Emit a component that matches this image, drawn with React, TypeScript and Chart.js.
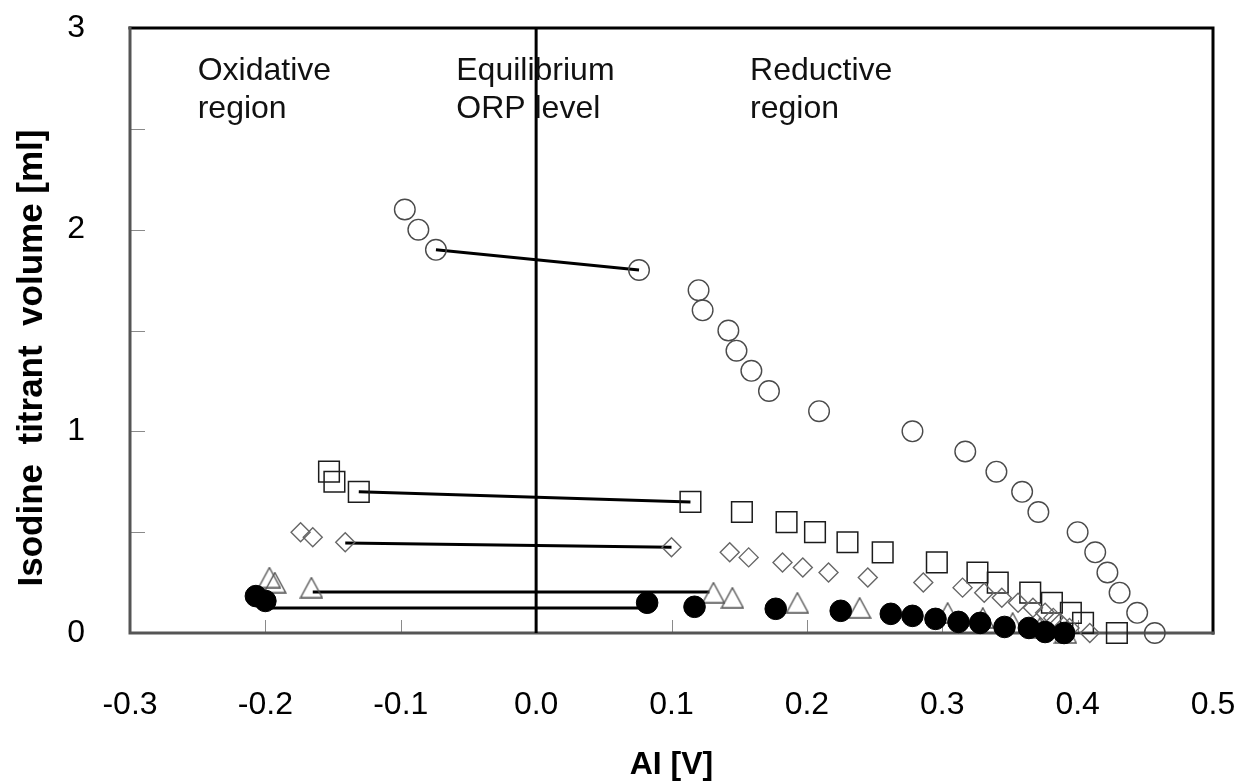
import { useEffect, useRef } from 'react';
import { Chart, registerables } from 'chart.js';

Chart.register(...registerables);

// Open circles
const circleX = [-0.097, -0.087, -0.074, 0.076, 0.12, 0.123, 0.142, 0.148, 0.159, 0.172, 0.209, 0.278, 0.317, 0.34, 0.359, 0.371, 0.4, 0.413, 0.422, 0.431, 0.444, 0.457];
const circleY = [2.1, 2.0, 1.9, 1.8, 1.7, 1.6, 1.5, 1.4, 1.3, 1.2, 1.1, 1.0, 0.9, 0.8, 0.7, 0.6, 0.5, 0.4, 0.3, 0.2, 0.1, 0.0];

// Open squares
const squareX = [-0.153, -0.149, -0.131, 0.114, 0.152, 0.185, 0.206, 0.23, 0.256, 0.296, 0.326, 0.341, 0.365, 0.381, 0.395, 0.404, 0.429];
const squareY = [0.8, 0.75, 0.7, 0.65, 0.6, 0.55, 0.5, 0.45, 0.4, 0.35, 0.3, 0.25, 0.2, 0.15, 0.1, 0.05, 0.0];

// Open diamonds
const diamondX = [-0.174, -0.165, -0.141, 0.1, 0.143, 0.157, 0.182, 0.197, 0.216, 0.245, 0.286, 0.315, 0.331, 0.344, 0.356, 0.367, 0.376, 0.382, 0.387, 0.394, 0.409];
const diamondY = [0.5, 0.475, 0.45, 0.425, 0.4, 0.375, 0.35, 0.325, 0.3, 0.275, 0.25, 0.225, 0.2, 0.175, 0.15, 0.125, 0.1, 0.075, 0.05, 0.025, 0.0];

// Open triangles
const triangleX = [-0.197, -0.193, -0.166, 0.131, 0.145, 0.193, 0.239, 0.304, 0.33, 0.352, 0.372, 0.391];
const triangleY = [0.275, 0.25, 0.225, 0.2, 0.175, 0.15, 0.125, 0.1, 0.075, 0.05, 0.025, 0.0];

// Filled circles
const dotX = [-0.207, -0.2, 0.082, 0.117, 0.177, 0.225, 0.262, 0.278, 0.295, 0.312, 0.328, 0.346, 0.364, 0.376, 0.39];
const dotY = [0.183, 0.159, 0.15, 0.13, 0.12, 0.11, 0.095, 0.085, 0.07, 0.055, 0.05, 0.03, 0.025, 0.005, 0.0];

// Jumps across the equilibrium level (start / end of each segment)
const bridgeX = [
  [-0.074, 0.076],
  [-0.131, 0.114],
  [-0.141, 0.1],
  [-0.165, 0.128],
  [-0.2, 0.077],
];
const bridgeY = [
  [1.9, 1.8],
  [0.7, 0.65],
  [0.446, 0.425],
  [0.203, 0.203],
  [0.124, 0.124],
];

// Equilibrium ORP level
const equilibriumX = 0;
const equilibriumY = [0, 3];

// Axis ranges and tick steps
const xRange = [-0.3, 0.5];
const yRange = [0, 3];
const xStep = 0.1;
const yStep = 1;
const yMinorStep = 0.5;

// Region notes: text lines and anchor (left edge, first baseline) in data units
const noteLines = [
  ['Oxidative', 'region'],
  ['Equilibrium', 'ORP level'],
  ['Reductive', 'region'],
];
const noteX = [-0.25, -0.059, 0.158];
const noteY = [2.742, 2.742, 2.742];

const xTitle = 'AI [V]';
const yTitle = 'Isodine  titrant  volume [ml]';

const FONT = "'Liberation Sans', Arial, Helvetica, sans-serif";

const pts = (xs: number[], ys: number[]) => xs.map((x, i) => ({ x, y: ys[i] }));

function makeTriangle(): HTMLCanvasElement {
  const w = 24;
  const h = 22;
  const c = document.createElement('canvas');
  c.width = w;
  c.height = h;
  const g = c.getContext('2d')!;
  g.strokeStyle = '#555';
  g.lineWidth = 1.4;
  g.beginPath();
  g.moveTo(w / 2, 1);
  g.lineTo(w - 1.2, h - 1);
  g.lineTo(1.2, h - 1);
  g.closePath();
  g.stroke();
  return c;
}

const decor = {
  id: 'decor',
  beforeDatasetsDraw(chart: any) {
    const { ctx, chartArea: a, scales } = chart;
    const xs = scales.x;
    const ys = scales.y;
    ctx.save();
    // inward tick marks
    ctx.strokeStyle = '#8a8a8a';
    ctx.lineWidth = 1;
    ctx.beginPath();
    xs.ticks.forEach((t: any) => {
      const px = Math.round(xs.getPixelForValue(t.value)) + 0.5;
      if (px < a.left + 3 || px > a.right - 3) return;
      ctx.moveTo(px, a.bottom);
      ctx.lineTo(px, a.bottom - 13);
    });
    for (let v = yRange[0] + yMinorStep; v < yRange[1] - 1e-9; v += yMinorStep) {
      const py = Math.round(ys.getPixelForValue(v)) + 0.5;
      ctx.moveTo(a.left, py);
      ctx.lineTo(a.left + 15, py);
    }
    ctx.stroke();
    // frame
    ctx.lineCap = 'square';
    ctx.lineWidth = 3;
    ctx.strokeStyle = '#000';
    ctx.beginPath();
    ctx.moveTo(a.left, a.top);
    ctx.lineTo(a.right, a.top);
    ctx.lineTo(a.right, a.bottom);
    ctx.stroke();
    ctx.strokeStyle = '#555';
    ctx.beginPath();
    ctx.moveTo(a.left, a.top);
    ctx.lineTo(a.left, a.bottom);
    ctx.lineTo(a.right, a.bottom);
    ctx.stroke();
    ctx.restore();
  },
  afterDraw(chart: any) {
    const { ctx, chartArea: a, scales } = chart;
    const xs = scales.x;
    const ys = scales.y;
    ctx.save();
    ctx.fillStyle = '#111';
    ctx.font = `32px ${FONT}`;
    ctx.textAlign = 'left';
    ctx.textBaseline = 'alphabetic';
    noteLines.forEach((lines, i) => {
      const px = xs.getPixelForValue(noteX[i]);
      const py = ys.getPixelForValue(noteY[i]);
      lines.forEach((s, j) => ctx.fillText(s, px, py + j * 38));
    });
    // axis titles
    ctx.fillStyle = '#000';
    ctx.font = `bold 32px ${FONT}`;
    ctx.textAlign = 'center';
    ctx.fillText(xTitle, (a.left + a.right) / 2, 774);
    ctx.font = `bold 35px ${FONT}`;
    ctx.translate(42, 358);
    ctx.rotate(-Math.PI / 2);
    ctx.fillText(yTitle, 0, 0);
    ctx.restore();
  },
};

export default function App() {
  const ref = useRef<HTMLCanvasElement>(null);

  useEffect(() => {
    if (!ref.current) return;
    const tri = makeTriangle();
    const base = { showLine: false, clip: false as const, pointHoverRadius: 0 };
    const bridges = bridgeX.map((bx, i) => ({
      ...base,
      data: pts(bx, bridgeY[i]),
      showLine: true,
      borderColor: '#000',
      borderWidth: 3,
      pointRadius: 0,
      order: 5,
    }));
    const chart = new Chart(ref.current, {
      type: 'scatter',
      data: {
        datasets: [
          {
            ...base,
            data: pts(dotX, dotY),
            pointStyle: 'circle',
            pointRadius: 10.8,
            pointBackgroundColor: '#000',
            pointBorderColor: '#000',
            pointBorderWidth: 1,
            order: 0,
          },
          {
            ...base,
            data: pts(triangleX, triangleY),
            pointStyle: tri,
            pointRadius: 10,
            order: 1,
          },
          {
            ...base,
            data: pts(diamondX, diamondY),
            pointStyle: 'rectRot',
            pointRadius: 9.5,
            pointBackgroundColor: 'transparent',
            pointBorderColor: '#666',
            pointBorderWidth: 1.4,
            order: 2,
          },
          {
            ...base,
            data: pts(squareX, squareY),
            pointStyle: 'rect',
            pointRadius: 14.6,
            pointBackgroundColor: 'transparent',
            pointBorderColor: '#1c1c1c',
            pointBorderWidth: 1.5,
            order: 3,
          },
          {
            ...base,
            data: pts(circleX, circleY),
            pointStyle: 'circle',
            pointRadius: 10.3,
            pointBackgroundColor: 'transparent',
            pointBorderColor: '#4a4a4a',
            pointBorderWidth: 1.4,
            order: 4,
          },
          ...bridges,
          {
            ...base,
            data: equilibriumY.map((y) => ({ x: equilibriumX, y })),
            showLine: true,
            borderColor: '#000',
            borderWidth: 3,
            pointRadius: 0,
            order: 6,
          },
        ],
      },
      options: {
        animation: false,
        responsive: true,
        maintainAspectRatio: false,
        events: [],
        layout: { padding: { top: 28, right: 29, left: 0, bottom: 0 } },
        plugins: { legend: { display: false }, tooltip: { enabled: false } },
        scales: {
          x: {
            type: 'linear',
            min: xRange[0],
            max: xRange[1],
            grid: { display: false },
            border: { display: false },
            afterFit: (s: any) => {
              s.height = 149;
              s.paddingLeft = 0;
              s.paddingRight = 0;
            },
            ticks: {
              stepSize: xStep,
              padding: 45,
              color: '#000',
              font: { family: FONT, size: 32 },
              callback: (v: any) => (Math.abs(Number(v)) < 1e-9 ? '0.0' : Number(v).toFixed(1)),
            },
          },
          y: {
            type: 'linear',
            min: yRange[0],
            max: yRange[1],
            grid: { display: false },
            border: { display: false },
            afterFit: (s: any) => {
              s.width = 130;
              s.paddingTop = 0;
              s.paddingBottom = 0;
            },
            ticks: {
              stepSize: yStep,
              padding: 37,
              color: '#000',
              font: { family: FONT, size: 32 },
              callback: (v: any) => String(Math.round(Number(v))),
            },
          },
        },
      },
      plugins: [decor],
    });
    return () => chart.destroy();
  }, []);

  return (
    <div style={{ position: 'fixed', left: 0, top: 0, width: 1242, height: 782, background: '#fff' }}>
      <canvas ref={ref} />
    </div>
  );
}
